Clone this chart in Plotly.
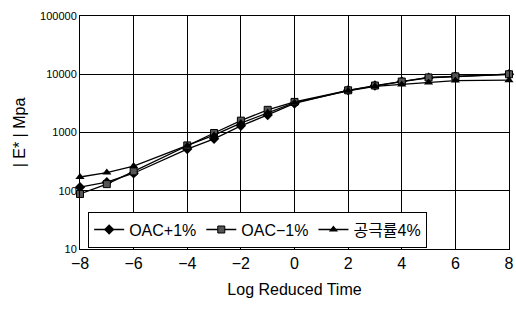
import plotly.graph_objects as go

x_vals = [-8, -7, -6, -4, -3, -2, -1, 0, 2, 3, 4, 5, 6, 8]
oac_plus = [115, 140, 200, 520, 780, 1300, 2000, 3150, 5300, 6400, 7500, 8700, 9200, 10000]
oac_minus = [88, 130, 215, 600, 980, 1600, 2450, 3350, 5300, 6400, 7500, 8800, 9200, 10000]
void4 = [172, 205, 265, 590, 900, 1450, 2200, 3250, 5200, 6200, 6700, 7200, 7800, 7900]

series_names = ["OAC+1%", "OAC\u22121%", "공극률4%"]
y_tick_vals = [10, 100, 1000, 10000, 100000]
y_tick_text = ["10", "100", "1000", "10000", "100000"]
x_tick_vals = [-8, -6, -4, -2, 0, 2, 4, 6, 8]

FONT = "Liberation Sans, Arial, Noto Sans CJK KR, sans-serif"

fig = go.Figure()
styles = [
    dict(symbol="diamond", size=8, color="black"),
    dict(symbol="square", size=7, color="#555555", line=dict(color="black", width=1)),
    dict(symbol="triangle-up", size=8, color="black"),
]
for name, ys, mk in zip(series_names, [oac_plus, oac_minus, void4], styles):
    fig.add_trace(go.Scatter(
        x=x_vals, y=ys, name=name, mode="lines+markers", cliponaxis=False,
        line=dict(color="black", width=1.3), marker=mk,
    ))

fig.update_layout(
    width=516, height=318,
    margin=dict(l=80, r=7, t=16, b=69),
    paper_bgcolor="white", plot_bgcolor="white",
    font=dict(family=FONT, color="black"),
    showlegend=True,
    legend=dict(
        orientation="h", x=0.019, y=0.006, xanchor="left", yanchor="bottom",
        bgcolor="white", bordercolor="black", borderwidth=1,
        font=dict(size=16, family=FONT), itemwidth=30, tracegroupgap=0,
    ),
    xaxis=dict(
        range=[-8.0001, 8.0001], tickvals=x_tick_vals, showgrid=True, gridcolor="black",
        gridwidth=1, zeroline=False, showline=True, linecolor="black", mirror=True,
        tickfont=dict(size=16), ticks="", automargin=False,
        title=dict(text="Log Reduced Time", font=dict(size=16), standoff=12),
    ),
    yaxis=dict(
        type="log", range=[1, 5], tickvals=y_tick_vals, ticktext=y_tick_text,
        showgrid=True, gridcolor="black", gridwidth=1, zeroline=False,
        showline=True, linecolor="black", mirror=True, ticks="", automargin=False,
        tickfont=dict(size=11),
        title=dict(text="| E* | Mpa", font=dict(size=16), standoff=10),
    ),
)

fig.write_html(
    "out.html",
    config={"displayModeBar": False},
    post_script="document.body.style.margin='0';document.body.style.overflow='hidden';",
)
